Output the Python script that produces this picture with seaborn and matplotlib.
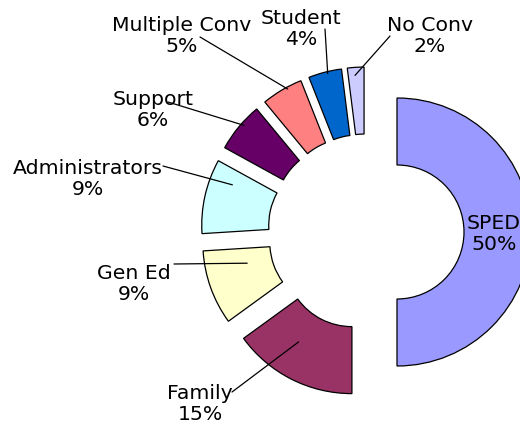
import numpy as np
import matplotlib
matplotlib.use("Agg")
import matplotlib.pyplot as plt
import seaborn as sns

# ---- data ----
categories = ["SPED", "Family", "Gen Ed", "Administrators", "Support",
              "Multiple Conv", "Student", "No Conv"]
values = [50, 15, 9, 9, 6, 5, 4, 2]
colors = ["#9999FF", "#993366", "#FFFFCC", "#CCFFFF", "#660066",
          "#FF8080", "#0066CC", "#CCCCFF"]

# ---- layout (pixel space, y measured from top) ----
W, H = 520, 431
center_px = (366, 233)
radius = 134
hole_width = 67
explode_px = 31

# label centres (x, y from top)
label_pos = {
    "SPED": (494, 234),
    "Family": (200, 404),
    "Gen Ed": (134, 284),
    "Administrators": (88, 179),
    "Support": (153, 110),
    "Multiple Conv": (182, 36),
    "Student": (301, 29),
    "No Conv": (430, 36),
}
# leader line start (x, y from top); end point: (fraction along wedge clockwise, radius)
leader_start = {
    "Family": (232, 393),
    "Gen Ed": (174, 265),
    "Administrators": (163, 167),
    "Support": (168, 103),
    "Multiple Conv": (200, 38),
    "Student": (325, 30),
    "No Conv": (390, 37),
}
leader_end = {
    "Family": (0.61, 98),
    "Gen Ed": (0.71, 92),
    "Administrators": (0.77, 111),
    "Support": (0.59, 131),
    "Multiple Conv": (0.63, 132),
    "Student": (0.57, 132),
    "No Conv": (0.43, 126),
}

sns.set_theme(style="white")
plt.rcParams["font.family"] = ["DejaVu Sans"]

fig = plt.figure(figsize=(W / 100, H / 100), dpi=100)
ax = fig.add_axes([0, 0, 1, 1])

wedges, _ = ax.pie(
    values,
    colors=colors,
    startangle=90,
    counterclock=False,
    radius=radius,
    center=(center_px[0], H - center_px[1]),
    explode=[explode_px] * len(values),
    wedgeprops=dict(width=hole_width, edgecolor="black", linewidth=0.9),
)
ax.set_xlim(0, W)
ax.set_ylim(0, H)
ax.set_aspect("equal")
ax.axis("off")

fs = 14.7
for cat, val, w in zip(categories, values, wedges):
    lx, ly = label_pos[cat]
    ax.text(lx, H - ly, f"{cat}\n{val}%", ha="center", va="center",
            fontsize=fs, color="black", linespacing=1.12, zorder=5)
    if cat in leader_start:
        frac, r = leader_end[cat]
        t1, t2 = w.theta1, w.theta2
        a = np.deg2rad(t2 - frac * (t2 - t1))
        cx, cy = w.center
        ex, ey = cx + r * np.cos(a), cy + r * np.sin(a)
        sx, sy = leader_start[cat]
        ax.plot([sx, ex], [H - sy, ey], color="black", linewidth=0.9, zorder=6)

fig.savefig("out.png", dpi=100)
